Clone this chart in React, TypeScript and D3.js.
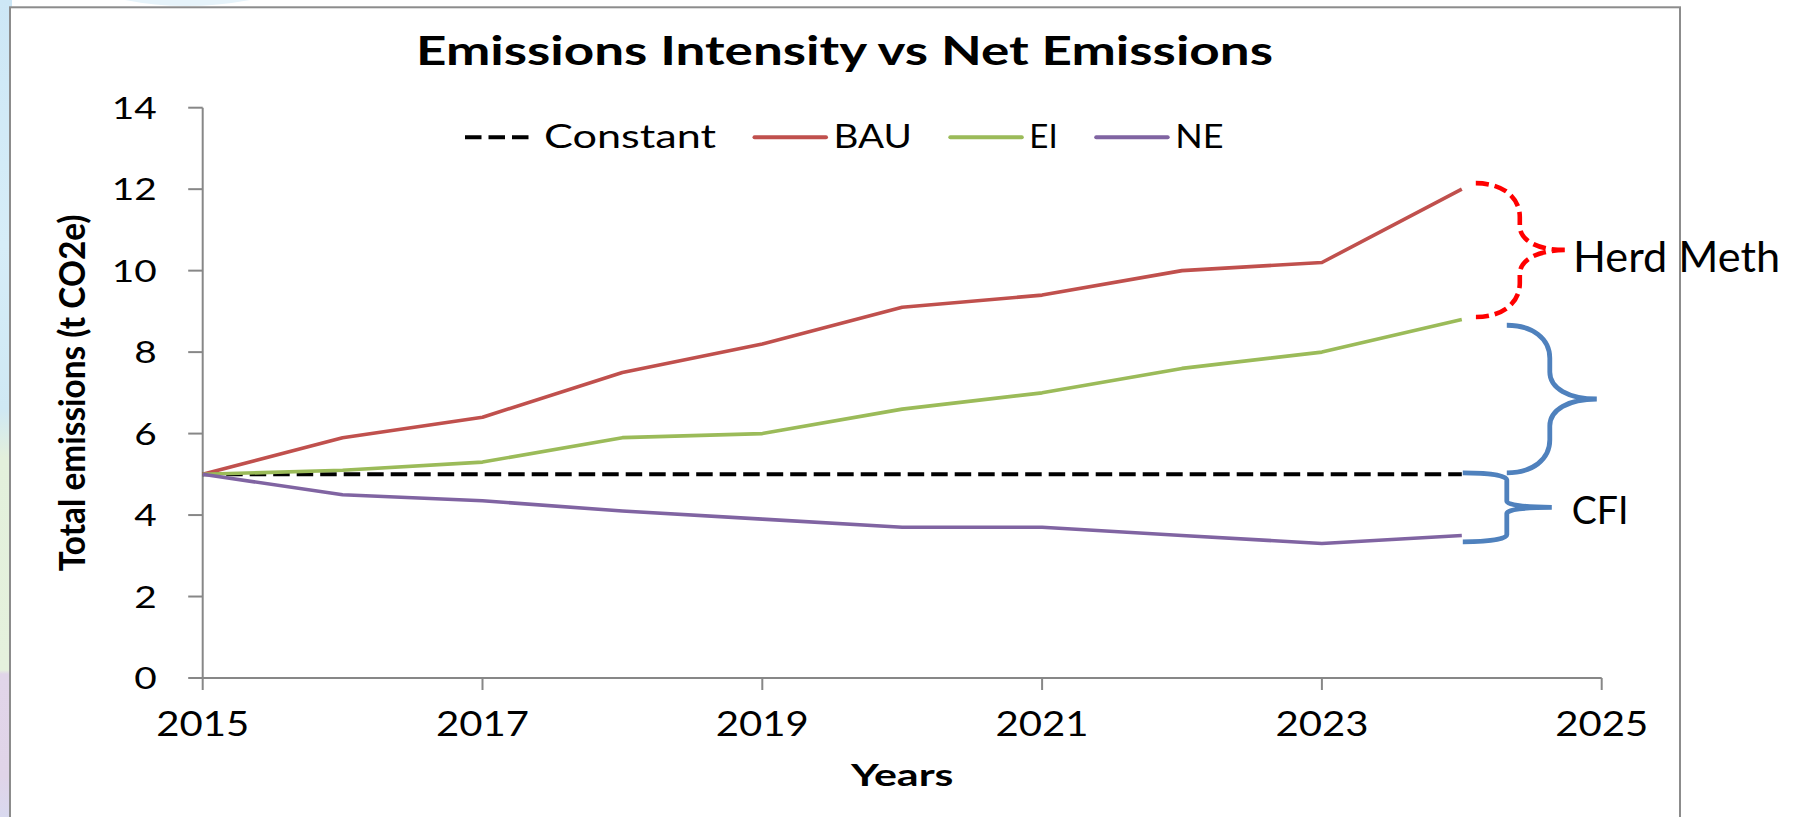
import React from "react";
import * as d3 from "d3";

// Series values, one per year
const years = [2015, 2016, 2017, 2018, 2019, 2020, 2021, 2022, 2023, 2024];
const constantValues = [5, 5, 5, 5, 5, 5, 5, 5, 5, 5];
const bauValues = [5, 5.9, 6.4, 7.5, 8.2, 9.1, 9.4, 10.0, 10.2, 12.0];
const eiValues = [5, 5.1, 5.3, 5.9, 6.0, 6.6, 7.0, 7.6, 8.0, 8.8];
const neValues = [5, 4.5, 4.35, 4.1, 3.9, 3.7, 3.7, 3.5, 3.3, 3.5];

const seriesNames = ["Constant", "BAU", "EI", "NE"];
const seriesColors = ["#000000", "#c0504d", "#9bbb59", "#8064a2"];
const seriesValues = [constantValues, bauValues, eiValues, neValues];

const yTicks = [0, 2, 4, 6, 8, 10, 12, 14];
const xTicks = [2015, 2017, 2019, 2021, 2023, 2025];

const titleText = "Emissions Intensity vs Net Emissions";
const yAxisTitle = "Total emissions (t CO2e)";
const xAxisTitle = "Years";
const herdLabel = "Herd Meth";
const cfiLabel = "CFI";

const W = 1807;
const H = 817;
const FONT = "Lato, 'Open Sans', sans-serif";
const AXIS_GREY = "#878787";
const DASH = 16.5;
const GAP = 7;

const x = d3.scaleLinear().domain([2015, 2025]).range([202.7, 1601.7]);
const y = d3.scaleLinear().domain([0, 14]).range([678, 107.7]);

type STextProps = {
  x: number;
  y: number;
  w: number;
  size: number;
  weight?: number;
  anchor?: "start" | "middle" | "end";
  fill?: string;
  children: React.ReactNode;
};

// Text drawn to a fixed advance width (the chart's lettering is wide-set)
function SText({ x: tx, y: ty, w, size, weight = 400, anchor = "start", fill = "#000", children }: STextProps) {
  const x0 = anchor === "middle" ? tx - w / 2 : anchor === "end" ? tx - w : tx;
  return (
    <text
      x={x0}
      y={ty}
      textLength={w}
      lengthAdjust="spacingAndGlyphs"
      fontSize={size}
      fontWeight={weight}
      fontFamily={FONT}
      fill={fill}
    >
      {children}
    </text>
  );
}

// Right-facing curly brace between yT and yB
function bracePath(x0: number, xm: number, xt: number, yT: number, yB: number, r1: number, r2: number) {
  const ym = (yT + yB) / 2;
  const p = d3.path();
  p.moveTo(x0, yT);
  p.bezierCurveTo(x0 + (xm - x0) * 0.6, yT, xm, yT + r1 * 0.4, xm, yT + r1);
  p.lineTo(xm, ym - r2);
  p.bezierCurveTo(xm, ym - r2 * 0.4, xm + (xt - xm) * 0.4, ym, xt, ym);
  p.moveTo(xt, ym);
  p.bezierCurveTo(xm + (xt - xm) * 0.4, ym, xm, ym + r2 * 0.4, xm, ym + r2);
  p.lineTo(xm, yB - r1);
  p.bezierCurveTo(xm, yB - r1 * 0.4, x0 + (xm - x0) * 0.6, yB, x0, yB);
  return p.toString();
}

export default function App() {
  const line = d3
    .line<number>()
    .x((_, i) => x(years[i]))
    .y((v) => y(v));

  const last = years.length - 1;
  const xEnd = x(years[last]);
  const yBau = y(bauValues[last]);
  const yEi = y(eiValues[last]);
  const yConst = y(constantValues[last]);
  const yNe = y(neValues[last]);

  // legend layout
  const legendTextW = [172, 78.3, 28.4, 48.3];
  const legendY = 137.3;
  const sampleLen = 71.5;
  let lx = 465;
  const legendItems = seriesNames.map((name, i) => {
    const item = { name, x: lx, color: seriesColors[i], dashed: i === 0, tw: legendTextW[i] };
    lx += sampleLen + 8 + legendTextW[i] + 38;
    return item;
  });

  return (
    <svg width={W} height={H} style={{ position: "absolute", left: 0, top: 0, background: "#fff" }}>
      <defs>
        <linearGradient id="edge" x1="0" y1="0" x2="0" y2="1">
          <stop offset="0" stopColor="#cde7f6" />
          <stop offset="0.3" stopColor="#d6edf8" />
          <stop offset="0.5" stopColor="#cfe8f4" />
          <stop offset="0.56" stopColor="#e3f0dc" />
          <stop offset="0.82" stopColor="#e5f1dd" />
          <stop offset="0.825" stopColor="#e1d5e9" />
          <stop offset="0.95" stopColor="#e0d4e8" />
          <stop offset="1" stopColor="#d9d9ef" />
        </linearGradient>
      </defs>

      {/* page decoration behind the chart frame */}
      <rect x={0} y={0} width={12} height={H} fill="url(#edge)" />
      <path d="M125 0 Q185 12 250 0 Z" fill="#e6f3fa" />

      {/* chart frame */}
      <rect x={10} y={7.3} width={1670} height={860} fill="#ffffff" stroke="#8c8c8c" strokeWidth={2} />

      {/* title */}
      <SText x={416} y={65} w={857} size={39.5} weight={700}>
        {titleText}
      </SText>

      {/* legend */}
      {legendItems.map((it) => (
        <g key={it.name}>
          <line
            x1={it.x}
            x2={it.x + (it.dashed ? 3 * DASH + 2 * GAP : sampleLen)}
            y1={legendY}
            y2={legendY}
            stroke={it.color}
            strokeWidth={4}
            strokeDasharray={it.dashed ? `${DASH} ${GAP}` : undefined}
            strokeLinecap={it.dashed ? "butt" : "round"}
          />
          <SText x={it.x + sampleLen + 7.5} y={148.3} w={it.tw} size={32.5}>
            {it.name}
          </SText>
        </g>
      ))}

      {/* axes */}
      <line x1={x(2015)} x2={x(2015)} y1={y(14)} y2={y(0)} stroke={AXIS_GREY} strokeWidth={2} />
      <line x1={x(2015)} x2={x(2025)} y1={y(0)} y2={y(0)} stroke={AXIS_GREY} strokeWidth={2} />
      {yTicks.map((t) => (
        <g key={`y${t}`}>
          <line x1={x(2015) - 14.5} x2={x(2015)} y1={y(t)} y2={y(t)} stroke={AXIS_GREY} strokeWidth={2} />
          <SText x={156.7} y={y(t) + 11} w={22.5 * String(t).length} size={31} anchor="end">
            {t}
          </SText>
        </g>
      ))}
      {xTicks.map((t) => (
        <g key={`x${t}`}>
          <line x1={x(t)} x2={x(t)} y1={y(0)} y2={y(0) + 12} stroke={AXIS_GREY} strokeWidth={2} />
          <SText x={x(t)} y={736} w={93} size={34} anchor="middle">
            {t}
          </SText>
        </g>
      ))}

      {/* axis titles */}
      <g transform={`translate(85, ${(y(0) + y(14)) / 2}) rotate(-90)`}>
        <SText x={0} y={0} w={356.7} size={37} weight={700} anchor="middle">
          {yAxisTitle}
        </SText>
      </g>
      <SText x={(x(2015) + x(2025)) / 2} y={785.7} w={102.6} size={31} weight={700} anchor="middle">
        {xAxisTitle}
      </SText>

      {/* series */}
      {seriesValues.map((vals, i) => (
        <path
          key={seriesNames[i]}
          d={line(vals) ?? ""}
          fill="none"
          stroke={seriesColors[i]}
          strokeWidth={i === 0 ? 4 : 3.6}
          strokeDasharray={i === 0 ? `${DASH} ${GAP}` : undefined}
          strokeLinejoin="round"
        />
      ))}

      {/* annotation braces */}
      <path
        d={bracePath(xEnd + 14, xEnd + 58, xEnd + 103, yBau - 6, yEi - 2.6, 34, 24)}
        fill="none"
        stroke="#ff0000"
        strokeWidth={4.6}
        strokeDasharray="13 6"
      />
      <path
        d={bracePath(xEnd + 45, xEnd + 88, xEnd + 135, yEi + 5.7, yConst - 1.5, 33, 27)}
        fill="none"
        stroke="#4f81bd"
        strokeWidth={4.8}
      />
      <path
        d={bracePath(xEnd + 1, xEnd + 45, xEnd + 90, yConst - 1.5, yNe + 6.4, 7, 6)}
        fill="none"
        stroke="#4f81bd"
        strokeWidth={4.8}
      />

      <SText x={1573} y={271.7} w={207} size={42}>
        {herdLabel}
      </SText>
      <SText x={1571.7} y={524} w={56.7} size={39}>
        {cfiLabel}
      </SText>
    </svg>
  );
}
